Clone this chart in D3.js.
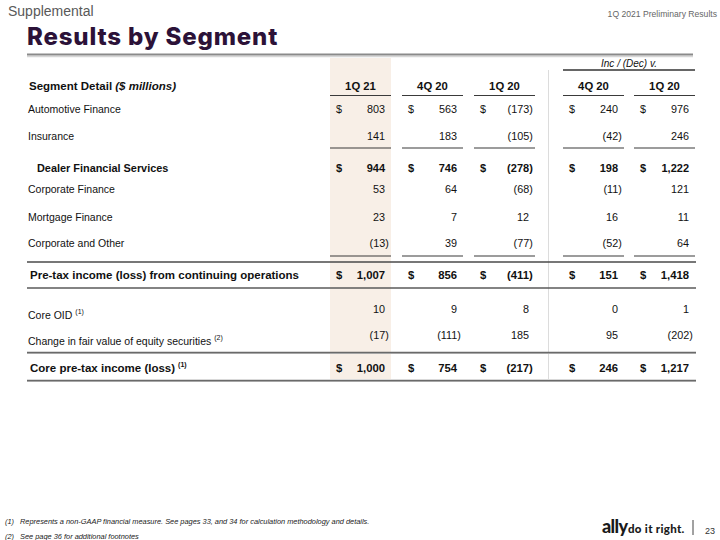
<!DOCTYPE html>
<html>
<head>
<meta charset="utf-8">
<script src="https://cdn.jsdelivr.net/npm/d3@7"></script>
<style>
  html, body { margin: 0; padding: 0; background: #fff; }
  svg { display: block; }
  text { font-family: "Liberation Sans", Arial, sans-serif; }
</style>
</head>
<body>
<svg id="chart" width="720" height="540"></svg>
<script>
// ---------------- DATA ----------------
const pageLabel = "Supplemental";
const reportLabel = "1Q 2021 Preliminary Results";
const title = "Results by Segment";
const groupHeader = "Inc / (Dec) v.";
const columns = ["1Q 21", "4Q 20", "1Q 20", "4Q 20", "1Q 20"];
const rowLabels = [
  "Automotive Finance",
  "Insurance",
  "Dealer Financial Services",
  "Corporate Finance",
  "Mortgage Finance",
  "Corporate and Other",
  "Pre-tax income (loss) from continuing operations",
  "Core OID",
  "Change in fair value of equity securities",
  "Core pre-tax income (loss)"
];
const rowNotes = ["", "", "", "", "", "", "", "(1)", "(2)", "(1)"];
const col1Q21   = [803, 141, 944, 53, 23, -13, 1007, 10, -17, 1000];
const col4Q20   = [563, 183, 746, 64, 7, 39, 856, 9, -111, 754];
const col1Q20   = [-173, -105, -278, -68, 12, -77, -411, 8, 185, -217];
const incVs4Q20 = [240, -42, 198, -11, 16, -52, 151, 0, 95, 246];
const incVs1Q20 = [976, 246, 1222, 121, 11, 64, 1418, 1, -202, 1217];
const footnotes = [
  ["(1)", "Represents a non-GAAP financial measure. See pages 33, and 34 for calculation methodology and details."],
  ["(2)", "See page 36 for additional footnotes"]
];
const pageNumber = "23";

// ---------------- LAYOUT ----------------
const svg = d3.select("#chart");
const series = [col1Q21, col4Q20, col1Q20, incVs4Q20, incVs1Q20];
const rowKind = ["item", "item", "subtotal", "item", "item", "item", "total", "adj", "adj", "total"];
const dollarRows = new Set([0, 2, 6, 9]);

// column scales (right edge of digits)
const xHist = d3.scaleLinear().domain([0, 2]).range([385, 529]);
const xInc  = d3.scaleLinear().domain([3, 4]).range([618, 689]);
const xCol = i => (i < 3 ? xHist(i) : xInc(i));
const colLeft = i => xCol(i) - 55;
const colRight = i => xCol(i) + 6;

// row scale (label baselines)
const rowY = d3.scaleOrdinal().domain(d3.range(rowLabels.length))
  .range([113, 140, 172, 193, 221, 247, 279, 319, 345, 372]);
const valueY = i => rowKind[i] === "adj" ? rowY(i) - 6 : rowY(i);

const fmt = d3.format(",");
const fmtVal = v => v < 0 ? "(" + fmt(-v) + ")" : fmt(v);

const leftX = 28, rightX = 696;
const ink = "#111";

// ---------------- BACKGROUND ----------------
svg.append("rect")
  .attr("x", colLeft(0)).attr("y", 58)
  .attr("width", colRight(0) - colLeft(0)).attr("height", 379 - 58)
  .attr("fill", "#f8efe7");

svg.append("line")
  .attr("x1", 548.5).attr("x2", 548.5).attr("y1", 70).attr("y2", 379)
  .attr("stroke", "#dcdcdc").attr("stroke-width", 1);

// ---------------- HEADER ----------------
svg.append("text").attr("x", 8).attr("y", 16)
  .attr("font-size", 14).attr("fill", "#595959").text(pageLabel);
svg.append("text").attr("x", 717).attr("y", 17).attr("text-anchor", "end")
  .attr("font-size", 8.6).attr("fill", "#666").text(reportLabel);
svg.append("text").attr("x", 27).attr("y", 45)
  .style("font-family", "Inter, 'Open Sans', sans-serif")
  .attr("font-weight", 800).attr("font-size", 24).attr("fill", "#2c1238")
  .attr("letter-spacing", 0.85)
  .text(title);
svg.append("line").attr("x1", 27).attr("x2", 693).attr("y1", 56.5).attr("y2", 56.5)
  .attr("stroke", "#d6d6d6").attr("stroke-width", 1.5);
svg.append("line").attr("x1", 27).attr("x2", 693).attr("y1", 54.5).attr("y2", 54.5)
  .attr("stroke", "#8a8a8a").attr("stroke-width", 2);

// group header
svg.append("text").attr("x", (colLeft(3) + colRight(4)) / 2).attr("y", 66.5)
  .attr("text-anchor", "middle").attr("font-size", 10).attr("font-style", "italic")
  .attr("fill", ink).text(groupHeader);
svg.append("line").attr("x1", colLeft(3)).attr("x2", colRight(4)).attr("y1", 70).attr("y2", 70)
  .attr("stroke", "#333").attr("stroke-width", 1.3);

// column headers
const segHead = svg.append("text").attr("x", 29).attr("y", 90)
  .attr("font-size", 11.5).attr("font-weight", "bold").attr("fill", ink);
segHead.append("tspan").text("Segment Detail ");
segHead.append("tspan").attr("font-style", "italic").text("($ millions)");

svg.selectAll("text.colhead").data(columns).join("text")
  .attr("class", "colhead")
  .attr("x", (d, i) => (colLeft(i) + colRight(i)) / 2).attr("y", 90)
  .attr("text-anchor", "middle").attr("font-size", 11.3).attr("font-weight", "bold")
  .attr("fill", ink).text(d => d);

// per-column underlines
function colRules(y) {
  svg.append("g").selectAll("line").data(columns).join("line")
    .attr("x1", (d, i) => colLeft(i)).attr("x2", (d, i) => colRight(i))
    .attr("y1", y).attr("y2", y)
    .attr("stroke", "#3a3a3a").attr("stroke-width", 1.2);
}
colRules(95.5);
colRules(148);
colRules(256);

// full-width rules
function fullRule(y, color, w) {
  svg.append("line").attr("x1", leftX - 1).attr("x2", rightX).attr("y1", y).attr("y2", y)
    .attr("stroke", color).attr("stroke-width", w);
}
fullRule(262, "#4a4a4a", 1.4);
fullRule(288, "#5a5a5a", 1.4);
fullRule(353.5, "#bdbdbd", 1);
fullRule(352.5, "#6a6a6a", 1.4);
fullRule(381.5, "#bdbdbd", 1);
fullRule(380.5, "#6a6a6a", 1.4);

// ---------------- ROWS ----------------
rowLabels.forEach((label, r) => {
  const kind = rowKind[r];
  const bold = kind === "subtotal" || kind === "total";
  const t = svg.append("text")
    .attr("x", kind === "subtotal" ? 37 : (kind === "total" ? 30 : 28))
    .attr("y", rowY(r))
    .attr("font-size", kind === "total" ? 11.5 : (kind === "subtotal" ? 10.9 : 10.5))
    .attr("font-weight", bold ? "bold" : "normal")
    .attr("fill", ink);
  t.append("tspan").text(label);
  if (rowNotes[r]) {
    t.append("tspan").attr("dx", 3).attr("dy", -5)
      .attr("font-size", 7).attr("font-weight", kind === "total" ? "bold" : "normal")
      .text(rowNotes[r]);
  }

  series.forEach((vals, c) => {
    const v = vals[r];
    const neg = v < 0;
    const fs = bold ? (kind === "total" ? 11.3 : 11) : 10.8;
    svg.append("text")
      .attr("x", xCol(c) + (neg ? 3.8 : 0))
      .attr("y", valueY(r))
      .attr("text-anchor", "end")
      .attr("font-size", fs)
      .attr("font-weight", bold ? "bold" : "normal")
      .attr("fill", ink)
      .text(fmtVal(v));
    if (dollarRows.has(r)) {
      svg.append("text")
        .attr("x", xCol(c) - 49).attr("y", valueY(r))
        .attr("font-size", fs).attr("font-weight", bold ? "bold" : "normal")
        .attr("fill", ink).text("$");
    }
  });
});

// ---------------- FOOTER ----------------
footnotes.forEach((f, i) => {
  svg.append("text").attr("x", 5).attr("y", 524 + i * 14.5)
    .attr("font-size", 7.4).attr("font-style", "italic").attr("fill", "#222").text(f[0]);
  svg.append("text").attr("x", 20).attr("y", 524 + i * 14.5)
    .attr("font-size", 7.4).attr("font-style", "italic").attr("fill", "#222").text(f[1]);
});

svg.append("text").attr("x", 602).attr("y", 533)
  .style("font-family", "Lato, 'Open Sans', sans-serif")
  .attr("font-size", 18).attr("font-weight", 900).attr("fill", "#1a1a1a")
  .attr("letter-spacing", -0.6).text("ally");
svg.append("text").attr("x", 628).attr("y", 533)
  .style("font-family", "Lato, 'Open Sans', sans-serif")
  .attr("font-size", 11.5).attr("font-weight", 900).attr("fill", "#1a1a1a")
  .attr("letter-spacing", 0.3)
  .text("do it right.");
svg.append("line").attr("x1", 693).attr("x2", 693).attr("y1", 520).attr("y2", 535)
  .attr("stroke", "#444").attr("stroke-width", 1);
svg.append("text").attr("x", 705).attr("y", 534)
  .attr("font-size", 9).attr("fill", "#333").text(pageNumber);
</script>
</body>
</html>
